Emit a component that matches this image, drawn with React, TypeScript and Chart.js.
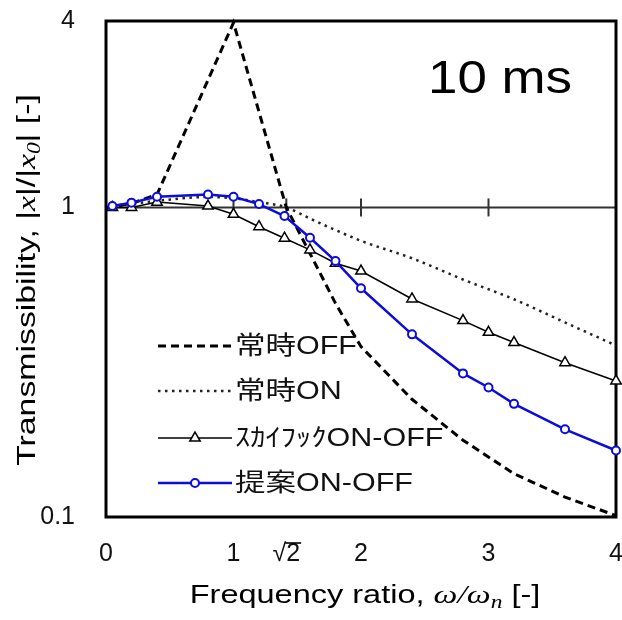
import React, { useEffect, useRef } from 'react';
import { Chart, registerables } from 'chart.js';

Chart.register(...registerables);

// ---- data ----
const xMarked = [0.05, 0.2, 0.4, 0.8, 1.0, 1.2, 1.4, 1.6, 1.8, 2.0, 2.4, 2.8, 3.0, 3.2, 3.6, 4.0];
const yProposed = [1.01, 1.036, 1.083, 1.1, 1.083, 1.025, 0.938, 0.798, 0.671, 0.548, 0.389, 0.291, 0.262, 0.232, 0.192, 0.164];
const ySkyhook = [1.0, 1.0, 1.04, 1.01, 0.95, 0.866, 0.795, 0.729, 0.66, 0.623, 0.506, 0.431, 0.395, 0.366, 0.315, 0.275];
const xOff = [0, 0.2, 0.4, 1.0, 1.414, 1.6, 1.8, 2.0, 2.4, 2.8, 3.2, 3.6, 4.0];
const yOff = [1.0, 1.03, 1.1, 3.95, 1.0, 0.71, 0.49, 0.355, 0.24, 0.177, 0.138, 0.116, 0.101];
const xOn = [0, 0.4, 0.8, 1.0, 1.2, 1.414, 1.6, 2.0, 2.4, 2.8, 3.2, 3.6, 4.0];
const yOn = [1.0, 1.05, 1.08, 1.07, 1.04, 1.0, 0.92, 0.78, 0.685, 0.585, 0.505, 0.425, 0.358];

const xTickValues = [0, 1, Math.SQRT2, 2, 3, 4];
const xTickLabels = ['0', '1', '\u221A2', '2', '3', '4'];
const yTickValues = [0.1, 1, 4];
const yTickLabels = ['0.1', '1', '4'];

const seriesLabels = ['提案ON-OFF', 'ｽｶｲﾌｯｸON-OFF', '常時OFF', '常時ON'];
const legendOrder = [2, 3, 1, 0];
const annotationText = '10 ms';

const BLUE = '#0c0cdc';
const SANS = "'Liberation Sans', Arial, sans-serif";
const LEGEND_FONT = "25px 'Liberation Sans', 'Noto Sans CJK JP', sans-serif";
const SERIF_I = "italic 26px 'Liberation Serif', serif";
const SERIF_I_SUB = "italic 18px 'Liberation Serif', serif";
const SANS25 = '25px ' + SANS;
const SANS26 = '26px ' + SANS;

const pts = (xs: number[], ys: number[]) => xs.map((x, i) => ({ x, y: ys[i] }));

type Run = { t: string; font: string; dy?: number };

function runsWidth(ctx: CanvasRenderingContext2D, runs: Run[]) {
  let w = 0;
  for (const r of runs) {
    ctx.font = r.font;
    w += ctx.measureText(r.t).width;
  }
  return w;
}

function drawRuns(ctx: CanvasRenderingContext2D, runs: Run[], x0: number) {
  let x = x0;
  for (const r of runs) {
    ctx.font = r.font;
    ctx.fillText(r.t, x, r.dy || 0);
    x += ctx.measureText(r.t).width;
  }
}

const decorPlugin = {
  id: 'decor',
  beforeDatasetsDraw(chart: any) {
    const { ctx, chartArea: a, scales } = chart;
    const ys = scales.y;
    const xs = scales.x;
    ctx.save();
    const y1 = ys.getPixelForValue(1);
    ctx.strokeStyle = '#333';
    ctx.lineWidth = 2;
    ctx.beginPath();
    ctx.moveTo(a.left, y1);
    ctx.lineTo(a.right, y1);
    ctx.stroke();
    for (const v of xTickValues) {
      if (v === 0 || v === 4) continue;
      const px = xs.getPixelForValue(v);
      ctx.beginPath();
      ctx.moveTo(px, y1 - 9);
      ctx.lineTo(px, y1 + 9);
      ctx.stroke();
    }
    ctx.strokeStyle = '#000';
    ctx.lineWidth = 3;
    ctx.strokeRect(a.left, a.top, a.right - a.left, a.bottom - a.top);
    ctx.restore();
  },
  afterDraw(chart: any) {
    const { ctx, scales } = chart;
    ctx.save();
    ctx.fillStyle = '#000';
    ctx.textBaseline = 'alphabetic';

    // annotation
    ctx.save();
    ctx.font = '46px ' + SANS;
    ctx.translate(500, 93);
    ctx.scale(1.15, 1);
    ctx.textAlign = 'center';
    ctx.fillText(annotationText, 0, 0);
    ctx.restore();
    ctx.textAlign = 'left';

    // sqrt vinculum
    {
      const xs = scales.x;
      ctx.font = SANS25;
      const wAll = ctx.measureText(xTickLabels[2]).width;
      const wRad = ctx.measureText('\u221A').width;
      const cx = xs.getPixelForValue(Math.SQRT2);
      const left = cx - wAll / 2;
      ctx.strokeStyle = '#000';
      ctx.lineWidth = 1.6;
      ctx.beginPath();
      ctx.moveTo(left + wRad - 1, 543);
      ctx.lineTo(left + wAll + 1, 543);
      ctx.stroke();
    }

    // x title
    const xRuns: Run[] = [
      { t: 'Frequency ratio, ', font: SANS25 },
      { t: '\u03C9/\u03C9', font: SERIF_I },
      { t: 'n', font: SERIF_I_SUB, dy: 5 },
      { t: ' [-]', font: SANS25 },
    ];
    ctx.save();
    ctx.translate(365, 603);
    ctx.scale(1.3, 1);
    drawRuns(ctx, xRuns, -runsWidth(ctx, xRuns) / 2);
    ctx.restore();

    // y title
    const yRuns: Run[] = [
      { t: 'Transmissibility, |', font: SANS26 },
      { t: 'x', font: SERIF_I },
      { t: '|/|', font: SANS26 },
      { t: 'x', font: SERIF_I },
      { t: '0', font: SERIF_I_SUB, dy: 5 },
      { t: '| [-]', font: SANS26 },
    ];
    ctx.save();
    ctx.translate(35, 280);
    ctx.rotate(-Math.PI / 2);
    ctx.scale(1.3, 1);
    drawRuns(ctx, yRuns, -runsWidth(ctx, yRuns) / 2);
    ctx.restore();

    // legend
    const ds = chart.data.datasets;
    const rowY = [346, 391, 438, 483];
    const lx0 = 158;
    const lx1 = 232;
    legendOrder.forEach((di, row) => {
      const d = ds[di];
      const y = rowY[row];
      ctx.save();
      ctx.strokeStyle = d.borderColor;
      ctx.lineWidth = d.borderWidth;
      ctx.setLineDash(d.borderDash || []);
      ctx.beginPath();
      ctx.moveTo(lx0, y);
      ctx.lineTo(lx1, y);
      ctx.stroke();
      ctx.setLineDash([]);
      if (d.pointRadius > 0) {
        const mx = (lx0 + lx1) / 2;
        const r = d.pointRadius;
        ctx.fillStyle = d.pointBackgroundColor;
        ctx.strokeStyle = d.pointBorderColor;
        ctx.lineWidth = d.pointBorderWidth;
        ctx.beginPath();
        if (d.pointStyle === 'triangle') {
          ctx.moveTo(mx, y - r);
          ctx.lineTo(mx + 0.866 * r, y + 0.5 * r);
          ctx.lineTo(mx - 0.866 * r, y + 0.5 * r);
          ctx.closePath();
        } else {
          ctx.arc(mx, y, r, 0, Math.PI * 2);
        }
        ctx.fill();
        ctx.stroke();
      }
      ctx.restore();
      ctx.save();
      ctx.fillStyle = '#111';
      ctx.font = LEGEND_FONT;
      ctx.textBaseline = 'middle';
      ctx.translate(235, y + 1);
      ctx.scale(1.22, 1);
      ctx.fillText(d.label, 0, 0);
      ctx.restore();
    });
    ctx.restore();
  },
};

export default function App() {
  const ref = useRef<HTMLCanvasElement | null>(null);
  useEffect(() => {
    document.body.style.margin = '0';
    if (!ref.current) return;
    const chart = new Chart(ref.current, {
      type: 'line',
      data: {
        datasets: [
          {
            label: seriesLabels[0],
            data: pts(xMarked, yProposed),
            borderColor: BLUE,
            borderWidth: 2.5,
            pointStyle: 'circle',
            pointRadius: 4,
            pointBorderWidth: 2,
            pointBackgroundColor: '#fff',
            pointBorderColor: BLUE,
            tension: 0,
            clip: false,
          },
          {
            label: seriesLabels[1],
            data: pts(xMarked, ySkyhook),
            borderColor: '#000',
            borderWidth: 1.5,
            pointStyle: 'triangle',
            pointRadius: 6,
            pointBorderWidth: 1.5,
            pointBackgroundColor: '#fff',
            pointBorderColor: '#000',
            tension: 0,
            clip: false,
          },
          {
            label: seriesLabels[2],
            data: pts(xOff, yOff),
            borderColor: '#000',
            borderWidth: 3,
            borderDash: [8, 5],
            pointRadius: 0,
            tension: 0,
            clip: false,
          },
          {
            label: seriesLabels[3],
            data: pts(xOn, yOn),
            borderColor: '#222',
            borderWidth: 2.5,
            borderDash: [2.5, 4.5],
            pointRadius: 0,
            cubicInterpolationMode: 'monotone',
            clip: false,
          },
        ] as any,
      },
      options: {
        responsive: false,
        animation: false,
        events: [],
        layout: { autoPadding: false, padding: { top: 21, right: 6, left: 0, bottom: 0 } },
        plugins: { legend: { display: false }, tooltip: { enabled: false } },
        scales: {
          x: {
            type: 'linear',
            min: 0,
            max: 4,
            grid: { display: false, drawTicks: false },
            border: { display: false },
            afterBuildTicks: (s: any) => {
              s.ticks = xTickValues.map((v) => ({ value: v }));
            },
            afterFit: (s: any) => {
              s.height = 103;
              s.paddingLeft = 0;
              s.paddingRight = 0;
            },
            ticks: {
              autoSkip: false,
              maxRotation: 0,
              padding: 22,
              color: '#111',
              font: { family: SANS, size: 25 },
              callback: (_v: any, i: number) => xTickLabels[i],
            },
          },
          y: {
            type: 'logarithmic',
            min: 0.1,
            max: 4,
            grid: { display: false, drawTicks: false },
            border: { display: false },
            afterBuildTicks: (s: any) => {
              s.ticks = yTickValues.map((v) => ({ value: v }));
            },
            afterFit: (s: any) => {
              s.width = 106;
              s.paddingTop = 0;
              s.paddingBottom = 0;
            },
            ticks: {
              autoSkip: false,
              padding: 31,
              color: '#111',
              font: { family: SANS, size: 25 },
              callback: (_v: any, i: number) => yTickLabels[i],
            },
          },
        },
      } as any,
      plugins: [decorPlugin],
    });
    return () => chart.destroy();
  }, []);
  return (
    <div>
      <canvas ref={ref} width={622} height={620} style={{ display: 'block' }} />
    </div>
  );
}
